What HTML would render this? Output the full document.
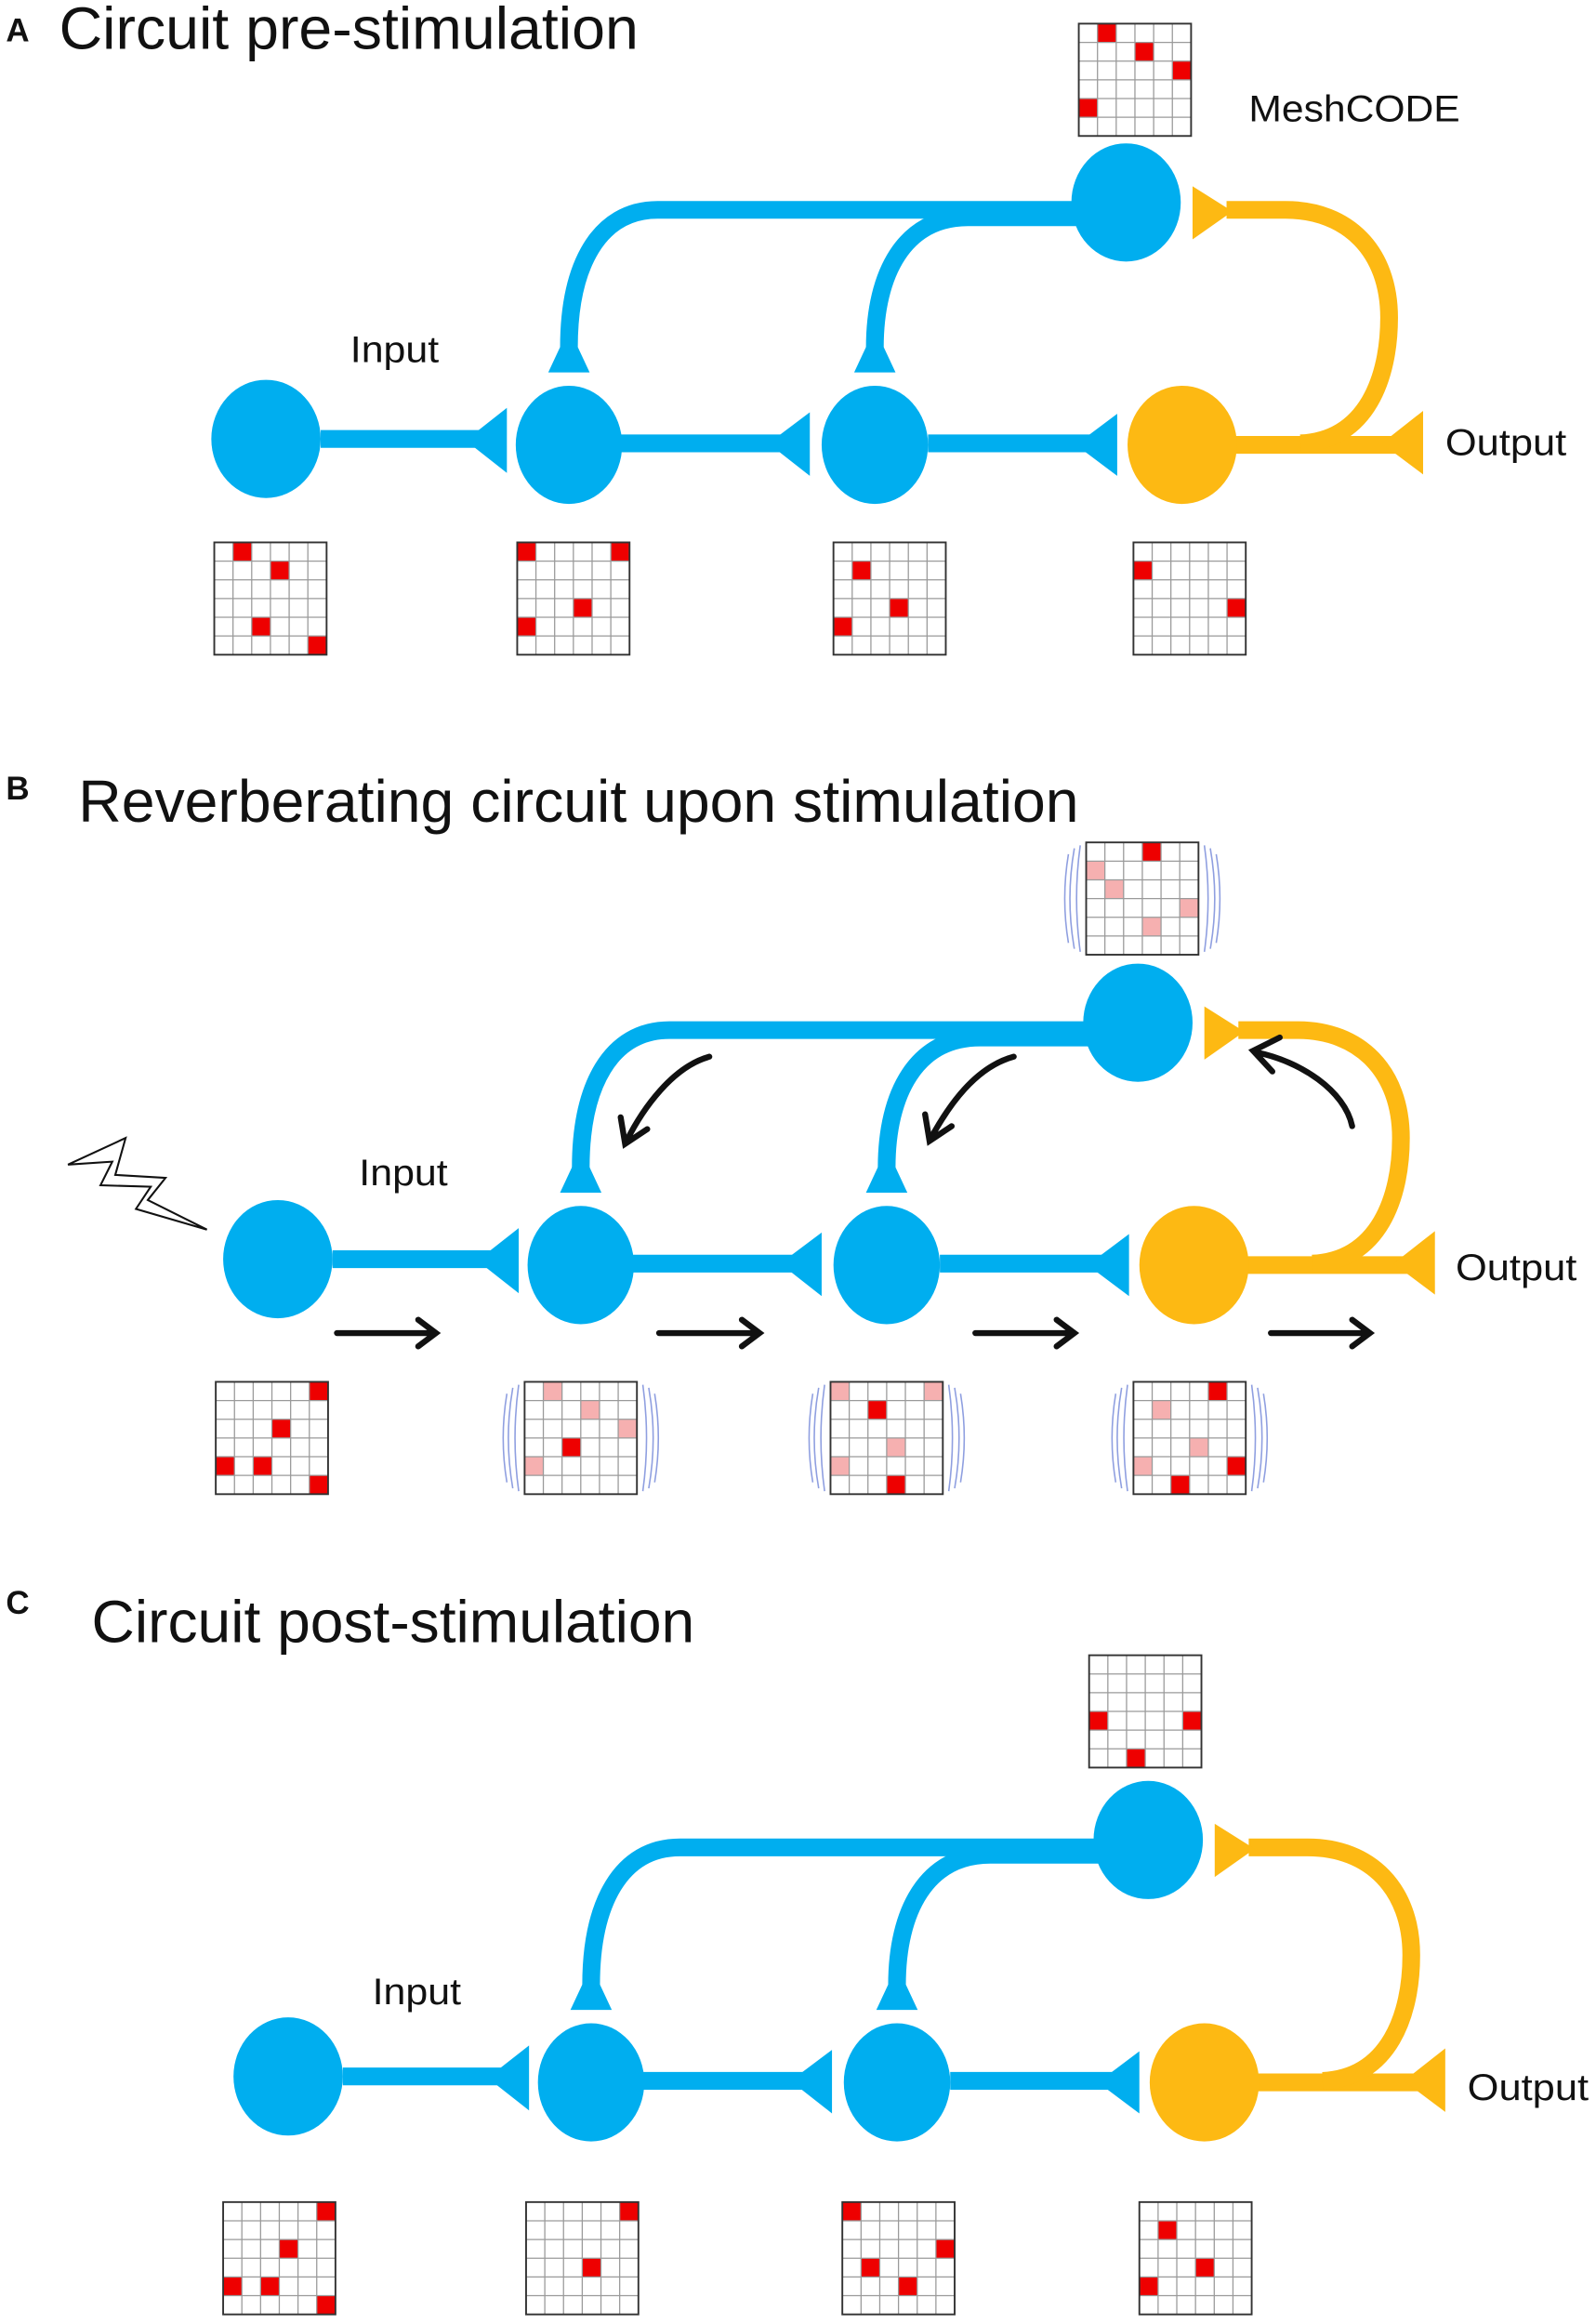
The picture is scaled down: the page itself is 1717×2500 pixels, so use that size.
<!DOCTYPE html>
<html><head><meta charset="utf-8"><style>
html,body{margin:0;padding:0;background:#fff;}
svg{display:block;}
text{font-family:"Liberation Sans",Arial,sans-serif;fill:#111;}
</style></head><body>
<svg width="1717" height="2500" viewBox="0 0 1080 1572.5" preserveAspectRatio="none" xmlns="http://www.w3.org/2000/svg">
<defs>
<g id="gl" fill="none">
 <path d="M12.67 0V76M25.33 0V76M38 0V76M50.67 0V76M63.33 0V76M0 12.67H76M0 25.33H76M0 38H76M0 50.67H76M0 63.33H76" stroke="#9a9a9a" stroke-width="0.8"/>
 <rect x="0" y="0" width="76" height="76" stroke="#333" stroke-width="1.2"/>
</g>
<g id="vib" fill="none" stroke="#8f9fe0" stroke-width="1">
 <path d="M-4 2Q-9 38 -4 74"/><path d="M-8 4Q-14 38 -8 72"/><path d="M-12 8Q-17 38 -12 68"/>
 <path d="M80 2Q85 38 80 74"/><path d="M84 4Q90 38 84 72"/><path d="M88 8Q93 38 88 68"/>
</g>
<g id="circ">
 <g fill="none" stroke="#00aeef" stroke-width="12">
  <path d="M217 297H325"/>
  <path d="M420 300H530"/>
  <path d="M628 300H738"/>
  <path d="M740 142H445C405 142 385 180 385 235"/>
  <path d="M740 147H655C612 147 592 185 592 235"/>
 </g>
 <g fill="#00aeef">
  <ellipse cx="180" cy="297" rx="37" ry="40"/>
  <ellipse cx="385" cy="301" rx="36" ry="40"/>
  <ellipse cx="592" cy="301" rx="36" ry="40"/>
  <ellipse cx="762" cy="137" rx="37" ry="40"/>
  <polygon points="315,298 343,276 343,320"/>
  <polygon points="520,300 548,279 548,322"/>
  <polygon points="728,301 756,280 756,322"/>
  <polygon points="385,222 371,252 399,252"/>
  <polygon points="592,222 578,252 606,252"/>
 </g>
 <g fill="none" stroke="#fdb913" stroke-width="12">
  <path d="M836 301H945"/>
  <path d="M880 300C925 298 940 255 940 215C940 170 912 142 870 142H830"/>
 </g>
 <g fill="#fdb913">
  <ellipse cx="800" cy="301" rx="37" ry="40"/>
  <polygon points="935,300 963,278 963,321"/>
  <polygon points="807,126 807,162 834,143"/>
 </g>
</g>
</defs>

<!-- Panel A -->
<text x="4" y="28" font-size="22" font-weight="bold">A</text>
<text x="40" y="33" font-size="40" textLength="392" lengthAdjust="spacingAndGlyphs">Circuit pre-stimulation</text>
<use href="#circ"/>
<text x="237" y="245" font-size="25" textLength="60" lengthAdjust="spacingAndGlyphs">Input</text>
<text x="978" y="308" font-size="25" textLength="82" lengthAdjust="spacingAndGlyphs">Output</text>
<text x="845" y="82" font-size="25" textLength="143" lengthAdjust="spacingAndGlyphs">MeshCODE</text>

<g transform="translate(730,16)"><rect width="76" height="76" fill="#fff"/>
 <rect x="12.67" y="0" width="12.67" height="12.67" fill="#e00"/><rect x="38" y="12.67" width="12.67" height="12.67" fill="#e00"/><rect x="63.33" y="25.33" width="12.67" height="12.67" fill="#e00"/><rect x="0" y="50.67" width="12.67" height="12.67" fill="#e00"/>
 <use href="#gl"/></g>
<g transform="translate(145,367)"><rect width="76" height="76" fill="#fff"/>
 <rect x="12.67" y="0" width="12.67" height="12.67" fill="#e00"/><rect x="38" y="12.67" width="12.67" height="12.67" fill="#e00"/><rect x="25.33" y="50.67" width="12.67" height="12.67" fill="#e00"/><rect x="63.33" y="63.33" width="12.67" height="12.67" fill="#e00"/>
 <use href="#gl"/></g>
<g transform="translate(350,367)"><rect width="76" height="76" fill="#fff"/>
 <rect x="0" y="0" width="12.67" height="12.67" fill="#e00"/><rect x="63.33" y="0" width="12.67" height="12.67" fill="#e00"/><rect x="38" y="38" width="12.67" height="12.67" fill="#e00"/><rect x="0" y="50.67" width="12.67" height="12.67" fill="#e00"/>
 <use href="#gl"/></g>
<g transform="translate(564,367)"><rect width="76" height="76" fill="#fff"/>
 <rect x="12.67" y="12.67" width="12.67" height="12.67" fill="#e00"/><rect x="38" y="38" width="12.67" height="12.67" fill="#e00"/><rect x="0" y="50.67" width="12.67" height="12.67" fill="#e00"/>
 <use href="#gl"/></g>
<g transform="translate(767,367)"><rect width="76" height="76" fill="#fff"/>
 <rect x="0" y="12.67" width="12.67" height="12.67" fill="#e00"/><rect x="63.33" y="38" width="12.67" height="12.67" fill="#e00"/>
 <use href="#gl"/></g>

<!-- Panel B -->
<text x="4" y="541" font-size="22" font-weight="bold">B</text>
<text x="53" y="556" font-size="40" textLength="677" lengthAdjust="spacingAndGlyphs">Reverberating circuit upon stimulation</text>
<use href="#circ" transform="translate(8,555)"/>
<text x="243" y="802" font-size="25" textLength="60" lengthAdjust="spacingAndGlyphs">Input</text>
<text x="985" y="866" font-size="25" textLength="82" lengthAdjust="spacingAndGlyphs">Output</text>
<polygon points="46,788 85,770 78,795 112,797 100,812 140,832 92,818 102,803 68,802 76,786" fill="#fff" stroke="#111" stroke-width="1.3" stroke-linejoin="miter"/>
<g stroke="#111" stroke-width="4" fill="none" stroke-linecap="round">
 <path d="M228 902H294M283 893L295 902L283 911"/>
 <path d="M446 902H513M502 893L514 902L502 911"/>
 <path d="M660 902H726M715 893L727 902L715 911"/>
 <path d="M860 902H926M915 893L927 902L915 911"/>
 <path d="M480 715C455 722 435 750 424 772M420 756L423 774L438 764"/>
 <path d="M686 715C660 722 642 748 630 770M626 754L629 772L644 762"/>
 <path d="M915 762C910 738 880 718 850 712M866 702L848 711L861 725"/>
</g>

<g transform="translate(735,570)"><use href="#vib"/><rect width="76" height="76" fill="#fff"/>
 <rect x="38" y="0" width="12.67" height="12.67" fill="#e00"/><rect x="0" y="12.67" width="12.67" height="12.67" fill="#f6b0b0"/><rect x="12.67" y="25.33" width="12.67" height="12.67" fill="#f6b0b0"/><rect x="63.33" y="38" width="12.67" height="12.67" fill="#f6b0b0"/><rect x="38" y="50.67" width="12.67" height="12.67" fill="#f6b0b0"/>
 <use href="#gl"/></g>
<g transform="translate(146,935)"><rect width="76" height="76" fill="#fff"/>
 <rect x="63.33" y="0" width="12.67" height="12.67" fill="#e00"/><rect x="38" y="25.33" width="12.67" height="12.67" fill="#e00"/><rect x="0" y="50.67" width="12.67" height="12.67" fill="#e00"/><rect x="25.33" y="50.67" width="12.67" height="12.67" fill="#e00"/><rect x="63.33" y="63.33" width="12.67" height="12.67" fill="#e00"/>
 <use href="#gl"/></g>
<g transform="translate(355,935)"><use href="#vib"/><rect width="76" height="76" fill="#fff"/>
 <rect x="12.67" y="0" width="12.67" height="12.67" fill="#f6b0b0"/><rect x="38" y="12.67" width="12.67" height="12.67" fill="#f6b0b0"/><rect x="63.33" y="25.33" width="12.67" height="12.67" fill="#f6b0b0"/><rect x="25.33" y="38" width="12.67" height="12.67" fill="#e00"/><rect x="0" y="50.67" width="12.67" height="12.67" fill="#f6b0b0"/>
 <use href="#gl"/></g>
<g transform="translate(562,935)"><use href="#vib"/><rect width="76" height="76" fill="#fff"/>
 <rect x="0" y="0" width="12.67" height="12.67" fill="#f6b0b0"/><rect x="63.33" y="0" width="12.67" height="12.67" fill="#f6b0b0"/><rect x="25.33" y="12.67" width="12.67" height="12.67" fill="#e00"/><rect x="38" y="38" width="12.67" height="12.67" fill="#f6b0b0"/><rect x="0" y="50.67" width="12.67" height="12.67" fill="#f6b0b0"/><rect x="38" y="63.33" width="12.67" height="12.67" fill="#e00"/>
 <use href="#gl"/></g>
<g transform="translate(767,935)"><use href="#vib"/><rect width="76" height="76" fill="#fff"/>
 <rect x="50.67" y="0" width="12.67" height="12.67" fill="#e00"/><rect x="12.67" y="12.67" width="12.67" height="12.67" fill="#f6b0b0"/><rect x="38" y="38" width="12.67" height="12.67" fill="#f6b0b0"/><rect x="0" y="50.67" width="12.67" height="12.67" fill="#f6b0b0"/><rect x="63.33" y="50.67" width="12.67" height="12.67" fill="#e00"/><rect x="25.33" y="63.33" width="12.67" height="12.67" fill="#e00"/>
 <use href="#gl"/></g>

<!-- Panel C -->
<text x="4" y="1092" font-size="22" font-weight="bold">C</text>
<text x="62" y="1111" font-size="40" textLength="408" lengthAdjust="spacingAndGlyphs">Circuit post-stimulation</text>
<use href="#circ" transform="translate(15,1108)"/>
<text x="252" y="1356" font-size="25" textLength="60" lengthAdjust="spacingAndGlyphs">Input</text>
<text x="993" y="1421" font-size="25" textLength="82" lengthAdjust="spacingAndGlyphs">Output</text>

<g transform="translate(737,1120)"><rect width="76" height="76" fill="#fff"/>
 <rect x="0" y="38" width="12.67" height="12.67" fill="#e00"/><rect x="63.33" y="38" width="12.67" height="12.67" fill="#e00"/><rect x="25.33" y="63.33" width="12.67" height="12.67" fill="#e00"/>
 <use href="#gl"/></g>
<g transform="translate(151,1490)"><rect width="76" height="76" fill="#fff"/>
 <rect x="63.33" y="0" width="12.67" height="12.67" fill="#e00"/><rect x="38" y="25.33" width="12.67" height="12.67" fill="#e00"/><rect x="0" y="50.67" width="12.67" height="12.67" fill="#e00"/><rect x="25.33" y="50.67" width="12.67" height="12.67" fill="#e00"/><rect x="63.33" y="63.33" width="12.67" height="12.67" fill="#e00"/>
 <use href="#gl"/></g>
<g transform="translate(356,1490)"><rect width="76" height="76" fill="#fff"/>
 <rect x="63.33" y="0" width="12.67" height="12.67" fill="#e00"/><rect x="38" y="38" width="12.67" height="12.67" fill="#e00"/>
 <use href="#gl"/></g>
<g transform="translate(570,1490)"><rect width="76" height="76" fill="#fff"/>
 <rect x="0" y="0" width="12.67" height="12.67" fill="#e00"/><rect x="63.33" y="25.33" width="12.67" height="12.67" fill="#e00"/><rect x="12.67" y="38" width="12.67" height="12.67" fill="#e00"/><rect x="38" y="50.67" width="12.67" height="12.67" fill="#e00"/>
 <use href="#gl"/></g>
<g transform="translate(771,1490)"><rect width="76" height="76" fill="#fff"/>
 <rect x="12.67" y="12.67" width="12.67" height="12.67" fill="#e00"/><rect x="38" y="38" width="12.67" height="12.67" fill="#e00"/><rect x="0" y="50.67" width="12.67" height="12.67" fill="#e00"/>
 <use href="#gl"/></g>
</svg>
</body></html>
